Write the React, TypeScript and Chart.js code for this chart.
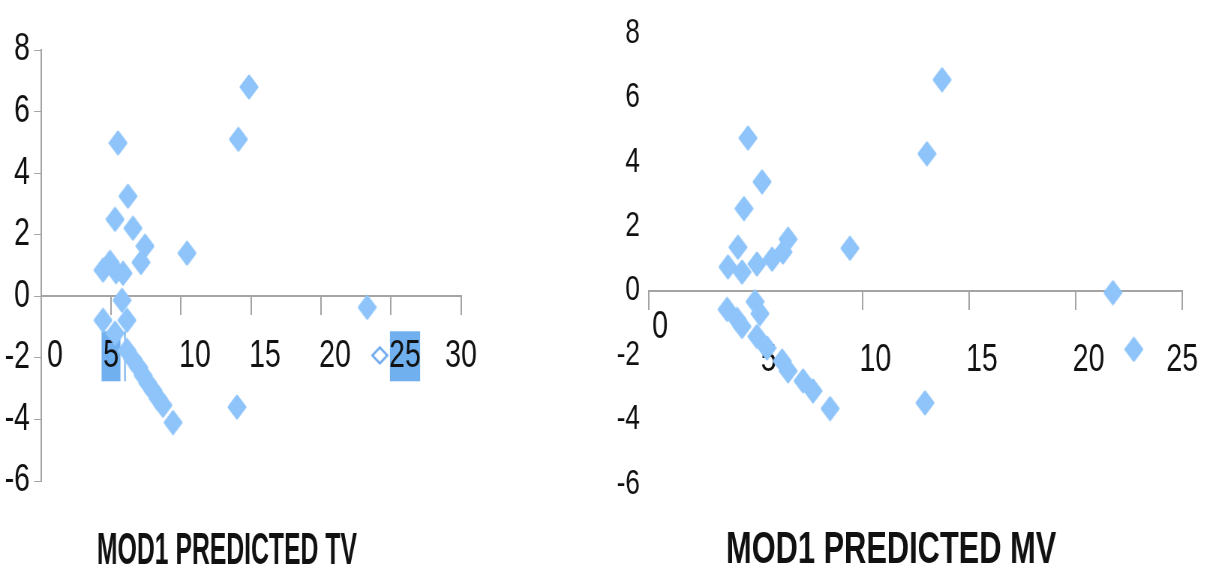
import React, { useEffect, useRef } from "react";
import { Chart, registerables } from "chart.js";

Chart.register(...registerables);

// ---------- data ----------
const tvPredicted = [14.86, 14.1, 5.5, 6.21, 5.29, 6.57, 7.43, 7.14, 10.43, 4.43, 4.93, 5.36, 5.86, 5.79, 6.14, 4.43, 5.29, 6.14, 6.57, 7.0, 7.29, 7.64, 8.0, 8.36, 8.71, 9.43, 14.0, 23.3];
const tvResidual = [6.8, 5.1, 4.98, 3.25, 2.5, 2.21, 1.63, 1.1, 1.4, 0.85, 1.1, 0.8, 0.75, -0.13, -0.78, -0.78, -1.2, -1.76, -2.05, -2.32, -2.57, -2.83, -3.06, -3.32, -3.54, -4.1, -3.6, -0.36];
const tvMarkerX = [24.2];
const tvMarkerY = [-1.92];

const mvPredicted = [13.74, 13.03, 4.64, 5.3, 4.45, 4.17, 6.52, 6.28, 5.77, 5.06, 4.36, 3.7, 9.42, 21.75, 22.73, 12.94, 3.66, 4.13, 4.36, 4.97, 5.2, 5.06, 5.53, 6.24, 6.52, 7.22, 7.69, 8.49];
const mvResidual = [6.55, 4.25, 4.74, 3.38, 2.55, 1.35, 1.6, 1.2, 0.98, 0.83, 0.58, 0.74, 1.32, -0.06, -1.82, -3.48, -0.58, -0.89, -1.11, -0.34, -0.71, -1.42, -1.78, -2.18, -2.49, -2.8, -3.11, -3.66];

const xTicksTV = [0, 5, 10, 15, 20, 25, 30];
const xTicksMV = [0, 5, 10, 15, 20, 25];
const yTicks = [-6, -4, -2, 0, 2, 4, 6, 8];
// tick labels that sit at a different offset in the picture
const tvPlainLabels = [5, 30];
const mvPlainLabels = [25];
const mvRaisedLabels = [0];
const highlightedTicksTV = [5, 25];

const titleTV = "MOD1 PREDICTED TV";
const titleMV = "MOD1 PREDICTED MV";

// ---------- styling ----------
const S = 0.75; // horizontal squeeze of the whole picture
const FAMILY = "'Liberation Sans', Arial, sans-serif";
const MARKER = "rgb(142,196,250)";
const HOLLOW = "rgb(100,165,238)";
const HILITE = "rgb(112,176,238)";
const AXIS = "#a4a4a4";
const TEXT = "#111111";
const CLEAR = "rgba(0,0,0,0)";

const W_LEFT = Math.round(600 / S);
const W_RIGHT = Math.round(610 / S);

function makeDiamond(): HTMLCanvasElement {
  const c = document.createElement("canvas");
  c.width = 26;
  c.height = 26;
  const g = c.getContext("2d")!;
  g.fillStyle = MARKER;
  g.strokeStyle = MARKER;
  g.lineWidth = 3;
  g.lineJoin = "round";
  g.beginPath();
  g.moveTo(13, 2);
  g.lineTo(24, 13);
  g.lineTo(13, 24);
  g.lineTo(2, 13);
  g.closePath();
  g.fill();
  g.stroke();
  return c;
}

function makeHollowDiamond(): HTMLCanvasElement {
  const c = document.createElement("canvas");
  c.width = 26;
  c.height = 20;
  const g = c.getContext("2d")!;
  g.fillStyle = "#ffffff";
  g.strokeStyle = HOLLOW;
  g.lineWidth = 2.4;
  g.lineJoin = "miter";
  g.beginPath();
  g.moveTo(13, 2);
  g.lineTo(23, 10);
  g.lineTo(13, 18);
  g.lineTo(3, 10);
  g.closePath();
  g.fill();
  g.stroke();
  return c;
}

const axisTitlePlugin = {
  id: "axisTitle",
  afterDraw(chart: any, _args: any, opts: any) {
    const { ctx } = chart;
    ctx.save();
    ctx.font = `${opts.weight} ${opts.size}px ${FAMILY}`;
    const w = ctx.measureText(opts.text).width;
    ctx.translate(opts.x, opts.y);
    ctx.scale(opts.width / w, 1);
    ctx.textAlign = "center";
    ctx.textBaseline = "middle";
    ctx.fillStyle = TEXT;
    ctx.fillText(opts.text, 0, 0);
    ctx.restore();
  },
};

function setTicks(values: number[]) {
  return (scale: any) => {
    scale.ticks = values.map((v) => ({ value: v }));
  };
}

const zeroHeight = (s: any) => { s.height = 0; };

function labelAxis(values: number[], lineHeightPx: number, offset: number, extraTicks: any = {}) {
  return {
    type: "linear",
    axis: "x",
    position: { y: 0 },
    afterBuildTicks: setTicks(values),
    afterFit: zeroHeight,
    grid: { display: false, drawTicks: false, tickLength: 0 },
    border: { display: false },
    ticks: {
      padding: 0,
      labelOffset: offset,
      color: TEXT,
      maxRotation: 0,
      autoSkip: false,
      font: { family: FAMILY, size: 38, lineHeight: lineHeightPx / 38 },
      ...extraTicks,
    },
  };
}

function buildTV(diamond: HTMLCanvasElement, hollow: HTMLCanvasElement): any {
  const hiliteColor = (c: any) => (c.tick && highlightedTicksTV.includes(c.tick.value) ? HILITE : CLEAR);
  return {
    type: "scatter",
    data: {
      datasets: [
        {
          data: tvPredicted.map((x, i) => ({ x, y: tvResidual[i] })),
          pointStyle: diamond,
          pointRadius: 10,
          pointHoverRadius: 10,
        },
        {
          data: tvMarkerX.map((x, i) => ({ x, y: tvMarkerY[i] })),
          pointStyle: hollow,
          pointRadius: 8,
          pointHoverRadius: 8,
        },
      ],
    },
    plugins: [axisTitlePlugin],
    options: {
      animation: false,
      responsive: false,
      events: [],
      layout: { padding: { left: 0, top: 50, right: W_LEFT - 461 / S, bottom: 91 } },
      plugins: {
        legend: { display: false },
        tooltip: { enabled: false },
        axisTitle: { text: titleTV, x: 227 / S, y: 552, width: 260 / S, size: 44, weight: "bold" },
      },
      scales: {
        x: {
          type: "linear",
          position: { y: 0 },
          min: 0,
          max: 30,
          afterBuildTicks: setTicks(xTicksTV),
          afterFit: zeroHeight,
          grid: { drawOnChartArea: false, drawTicks: true, tickLength: 18, color: AXIS, lineWidth: 2 },
          border: { display: true, color: AXIS, width: 2 },
          ticks: {
            padding: 0,
            labelOffset: 14 / S,
            color: TEXT,
            maxRotation: 0,
            autoSkip: false,
            callback: (v: number) => (tvPlainLabels.includes(v) ? "" : String(v)),
            font: { family: FAMILY, size: 38, lineHeight: 84 / 38 },
            showLabelBackdrop: true,
            backdropColor: hiliteColor,
            backdropPadding: { top: -17, bottom: -17, left: -1, right: -1 },
          },
        },
        x2: {
          min: 0,
          max: 30,
          ...labelAxis(tvPlainLabels, 120, 0, {
            showLabelBackdrop: true,
            backdropColor: hiliteColor,
            backdropPadding: { top: -35, bottom: -35, left: 2, right: 2 },
          }),
        },
        y: {
          type: "linear",
          position: "left",
          min: -6,
          max: 8,
          afterBuildTicks: setTicks(yTicks),
          afterFit: (s: any) => { s.width = 41 / S; },
          grid: { drawOnChartArea: false, drawTicks: true, tickLength: 7 / S, color: AXIS, lineWidth: 1 },
          border: { display: true, color: AXIS, width: 2 },
          ticks: { padding: 4 / S, color: TEXT, font: { family: FAMILY, size: 38 } },
        },
      },
    },
  };
}

function buildMV(diamond: HTMLCanvasElement): any {
  return {
    type: "scatter",
    data: {
      datasets: [
        {
          data: mvPredicted.map((x, i) => ({ x, y: mvResidual[i] })),
          pointStyle: diamond,
          pointRadius: 10,
          pointHoverRadius: 10,
        },
      ],
    },
    plugins: [axisTitlePlugin],
    options: {
      animation: false,
      responsive: false,
      events: [],
      layout: { padding: { left: 0, top: 29, right: W_RIGHT - 582 / S, bottom: 88 } },
      plugins: {
        legend: { display: false },
        tooltip: { enabled: false },
        axisTitle: { text: titleMV, x: 291 / S, y: 551, width: 330 / S, size: 44, weight: "bold" },
      },
      scales: {
        x: {
          type: "linear",
          position: { y: 0 },
          min: 0,
          max: 25,
          afterBuildTicks: setTicks(xTicksMV),
          afterFit: zeroHeight,
          grid: { drawOnChartArea: false, drawTicks: true, tickLength: 18, color: AXIS, lineWidth: 2 },
          border: { display: true, color: AXIS, width: 2 },
          ticks: {
            padding: 0,
            labelOffset: 13 / S,
            color: TEXT,
            maxRotation: 0,
            autoSkip: false,
            callback: (v: number) => (mvPlainLabels.includes(v) || mvRaisedLabels.includes(v) ? "" : String(v)),
            font: { family: FAMILY, size: 38, lineHeight: 104 / 38 },
          },
        },
        x2: { min: 0, max: 25, ...labelAxis(mvPlainLabels, 140, 0) },
        x3: { min: 0, max: 25, ...labelAxis(mvRaisedLabels, 74, 11 / S) },
        y: {
          type: "linear",
          position: "left",
          min: -6,
          max: 8,
          afterBuildTicks: setTicks(yTicks),
          afterFit: (s: any) => { s.width = 49 / S; },
          grid: { display: false, drawTicks: false, tickLength: 0 },
          border: { display: false },
          ticks: { padding: 9 / S, color: TEXT, font: { family: FAMILY, size: 35 } },
        },
      },
    },
  };
}

export default function App() {
  const leftRef = useRef<HTMLCanvasElement>(null);
  const rightRef = useRef<HTMLCanvasElement>(null);

  useEffect(() => {
    const diamond = makeDiamond();
    const hollow = makeHollowDiamond();
    const a = new Chart(leftRef.current!, buildTV(diamond, hollow));
    const b = new Chart(rightRef.current!, buildMV(diamond));
    return () => {
      a.destroy();
      b.destroy();
    };
  }, []);

  return (
    <div style={{ position: "absolute", left: 0, top: 0, width: 1210, height: 572, background: "#ffffff", overflow: "hidden" }}>
      <canvas ref={leftRef} width={W_LEFT} height={572} style={{ position: "absolute", left: 0, top: 0, width: 600, height: 572 }} />
      <canvas ref={rightRef} width={W_RIGHT} height={572} style={{ position: "absolute", left: 600, top: 0, width: 610, height: 572 }} />
    </div>
  );
}
